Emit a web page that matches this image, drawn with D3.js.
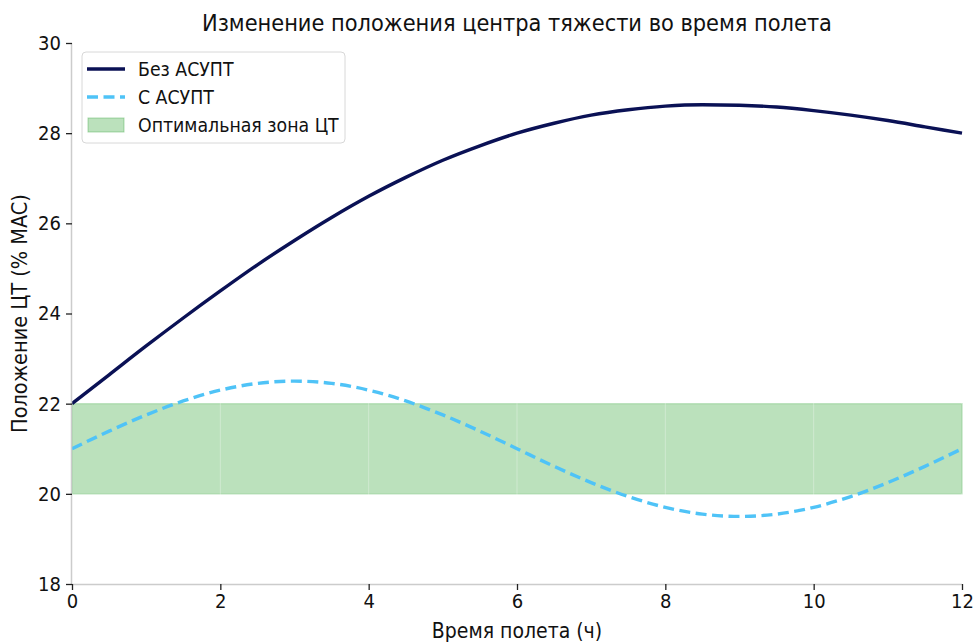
<!DOCTYPE html>
<html><head><meta charset="utf-8">
<script src="https://cdn.jsdelivr.net/npm/d3@7"></script>
<style>
body{margin:0;background:#fff;}
text{font-family:"DejaVu Sans Condensed","DejaVu Sans",sans-serif;font-stretch:condensed;}
</style></head>
<body><svg id="c" width="975" height="644"></svg>
<script>
const hours = [0,0.5,1,1.5,2,2.5,3,3.5,4,4.5,5,5.5,6,6.5,7,7.5,8,8.5,9,9.5,10,10.5,11,11.5,12];
const withoutSystem = [22.00,22.64,23.28,23.90,24.50,25.08,25.62,26.13,26.60,27.02,27.40,27.72,28.00,28.22,28.40,28.52,28.60,28.63,28.62,28.58,28.50,28.40,28.28,28.14,28.00];
const withSystem = [21.00,21.39,21.75,22.06,22.30,22.45,22.50,22.45,22.30,22.06,21.75,21.39,21.00,20.61,20.25,19.94,19.70,19.55,19.50,19.55,19.70,19.94,20.25,20.61,21.00];
const optimalZone = [20,22];
const xTicks = [0,2,4,6,8,10,12];
const yTicks = [18,20,22,24,26,28,30];
const seriesNames = ["Без АСУПТ","С АСУПТ","Оптимальная зона ЦТ"];
const title = "Изменение положения центра тяжести во время полета";
const xLabel = "Время полета (ч)";
const yLabel = "Положение ЦТ (% MAC)";

const svg = d3.select("#c");
const L=72,R=962,T=43,B=584;
const x = d3.scaleLinear().domain([0,12]).range([L,R]);
const y = d3.scaleLinear().domain([18,30]).range([B,T]);

// optimal zone
svg.append("rect").attr("x",x(0)).attr("y",y(optimalZone[1]))
  .attr("width",x(12)-x(0)).attr("height",y(optimalZone[0])-y(optimalZone[1]))
  .attr("fill","#4caf50").attr("fill-opacity",0.38)
  .attr("stroke","#4caf50").attr("stroke-opacity",0.45).attr("stroke-width",1.2);

// grid
const g = svg.append("g");
g.selectAll("line.gx").data(xTicks).join("line").attr("x1",d=>x(d)).attr("x2",d=>x(d))
  .attr("y1",T).attr("y2",B).attr("stroke","#ffffff").attr("stroke-opacity",0.3).attr("stroke-width",1);
g.selectAll("line.gy").data(yTicks).join("line").attr("y1",d=>y(d)).attr("y2",d=>y(d))
  .attr("x1",L).attr("x2",R).attr("stroke","#ffffff").attr("stroke-opacity",0.3).attr("stroke-width",1);

const line = d3.line().curve(d3.curveMonotoneX);
svg.append("path").attr("d",line(hours.map((h,i)=>[x(h),y(withoutSystem[i])])))
  .attr("fill","none").attr("stroke","#0a1155").attr("stroke-width",3.4);
svg.append("path").attr("d",line(hours.map((h,i)=>[x(h),y(withSystem[i])])))
  .attr("fill","none").attr("stroke","#4fc3f7").attr("stroke-width",3.4).attr("stroke-dasharray","11,5.5");

// axes
const xa = svg.append("g").attr("transform",`translate(0,${B})`).call(d3.axisBottom(x).tickValues(xTicks).tickSize(6).tickPadding(4));
const ya = svg.append("g").attr("transform",`translate(${L},0)`).call(d3.axisLeft(y).tickValues(yTicks).tickSize(6).tickPadding(5));
[xa,ya].forEach(a=>{
  a.select(".domain").attr("stroke","#cccccc").attr("stroke-width",1.5);
  a.selectAll(".tick line").attr("stroke","#222").attr("stroke-width",1.3);
  a.selectAll(".tick text").attr("font-size",20).attr("fill","#111");
});
xa.select(".domain").attr("d",`M${L},0.5H${R}`);
ya.select(".domain").attr("d",`M-0.5,${B}V${T}`);

svg.append("text").attr("x",(L+R)/2).attr("y",31).attr("text-anchor","middle").attr("font-size",23.3).attr("fill","#111").text(title);
svg.append("text").attr("x",(L+R)/2).attr("y",638).attr("text-anchor","middle").attr("font-size",21).attr("fill","#111").text(xLabel);
svg.append("text").attr("transform",`translate(27,${(T+B)/2}) rotate(-90)`).attr("text-anchor","middle").attr("font-size",21.5).attr("fill","#111").text(yLabel);

// legend
const lg = svg.append("g");
lg.append("rect").attr("x",82).attr("y",52).attr("width",263).attr("height",91).attr("rx",4)
  .attr("fill","#fff").attr("fill-opacity",0.85).attr("stroke","#d8d8d8").attr("stroke-width",1);
const ly=[69,97,125];
lg.append("line").attr("x1",87).attr("x2",125).attr("y1",ly[0]).attr("y2",ly[0]).attr("stroke","#0a1155").attr("stroke-width",3.4);
lg.append("line").attr("x1",87).attr("x2",125).attr("y1",ly[1]).attr("y2",ly[1]).attr("stroke","#4fc3f7").attr("stroke-width",3.4).attr("stroke-dasharray","11,5.5");
lg.append("rect").attr("x",88).attr("y",ly[2]-7).attr("width",36).attr("height",14)
  .attr("fill","#4caf50").attr("fill-opacity",0.38).attr("stroke","#4caf50").attr("stroke-opacity",0.45);
lg.selectAll("text.l").data(seriesNames).join("text").attr("x",138).attr("y",(d,i)=>ly[i]+7)
  .attr("font-size",19.3).attr("fill","#111").text(d=>d);
</script></body></html>
